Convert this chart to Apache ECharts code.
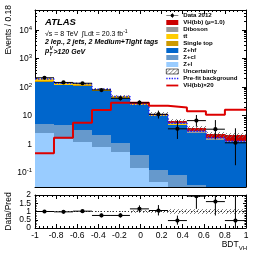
<!DOCTYPE html>
<html><head><meta charset="utf-8">
<script src="https://cdn.jsdelivr.net/npm/echarts@6/dist/echarts.min.js"></script>
<style>html,body{margin:0;padding:0;background:#fff}#c{width:266px;height:255px}</style>
</head><body><div id="c"></div>
<script>
// ---- data ----
const binLow  = [-1, -0.82, -0.64, -0.46, -0.28, -0.1, 0.08, 0.26, 0.44, 0.62, 0.8];
const binHigh = [-0.82, -0.64, -0.46, -0.28, -0.1, 0.08, 0.26, 0.44, 0.62, 0.8, 1.0];
const zl        = [2.4, 1.46, 1.2, 0.8, 0.54, 0.14, 0.048, 0.012, 0.006, 0.004, 0.003];
const zcl       = [2.6, 3.1, 1.9, 1.27, 0.51, 0.27, 0.072, 0.07, 0.03, 0.015, 0.01];
const zhf       = [149, 112, 107, 70, 41, 22.6, 9.7, 4.5, 2.33, 1.36, 1.14];
const singleTop = [5, 4, 4, 3, 1.5, 0.8, 0.15, 0.1, 0.05, 0.02, 0.01];
const ttbar     = [35.5, 18.4, 16.2, 9, 3.1, 1.0, 0.15, 0.3, 0.08, 0.02, 0.01];
const diboson   = [1.5, 1.5, 1.5, 1.2, 1.0, 0.8, 0.3, 0.45, 0.35, 0.25, 0.1];
const vhbb      = [0.024, 0.083, 0.28, 0.78, 1.4, 1.4, 1.1, 0.95, 0.7, 0.53, 0.8];
const vhbbx20   = [0.47, 1.66, 5.6, 15.6, 28, 28, 22, 19, 14, 10.7, 16];
const prefit    = [190, 135, 128, 83, 46, 25, 10.3, 5.3, 2.8, 1.65, 1.25];
const dataVals  = [210, 144, 135, 78, 40, 28, 11, 3.4, 6.6, 3.3, 1.1];
const dataErrLo = [14, 12, 11.5, 8.8, 6.2, 5.2, 3.2, 1.9, 2.55, 1.85, 0.92];
const dataErrHi = [15, 12.5, 12, 9.3, 6.8, 5.8, 3.8, 3.5, 3.8, 3.6, 2.45];
const uncRel    = [0.06, 0.06, 0.06, 0.07, 0.08, 0.1, 0.12, 0.15, 0.18, 0.2, 0.2];
const ratio      = [1.0, 0.98, 1.02, 0.76, 0.76, 1.16, 1.06, 0.45, 1.93, 1.6, 0.45];
const ratioErrLo = [0.07, 0.08, 0.08, 0.11, 0.12, 0.2, 0.3, 0.25, 0.77, 0.84, 0.45];
const ratioErrHi = [0.07, 0.08, 0.08, 0.11, 0.13, 0.21, 0.33, 0.3, 0.9, 1.0, 1.6];
const ratioUnc   = [0.04, 0.04, 0.04, 0.05, 0.06, 0.08, 0.1, 0.14, 0.16, 0.17, 0.17];
const yMajorTicks = [0.1, 1, 10, 100, 1000, 10000];
const xTickLabels = [-1, -0.8, -0.6, -0.4, -0.2, 0, 0.2, 0.4, 0.6, 0.8, 1];
const ratioLabelsA = [0, 1, 2];
const ratioLabelsB = [0.5, 1.5];

// ---- style ----
const FONT = '"Liberation Sans", Arial, Helvetica, sans-serif';
const yMin = 0.031, yMax = 50000;

function makeHatch() {
  const c = document.createElement('canvas'); c.width = 4; c.height = 4;
  const g = c.getContext('2d'); g.strokeStyle = '#666'; g.lineWidth = 0.8;
  g.beginPath();
  g.moveTo(0, 4); g.lineTo(4, 0);
  g.moveTo(-1, 1); g.lineTo(1, -1);
  g.moveTo(3, 5); g.lineTo(5, 3);
  g.stroke();
  return {image: c, repeat: 'repeat'};
}
const HATCH = makeHatch();

const yMinorTicks = [];
for (let e = -2; e <= 4; e++) for (let k = 2; k <= 9; k++) {
  const v = k * Math.pow(10, e);
  if (v > yMin && v < yMax) yMinorTicks.push(v);
}

function makeRect(fill) {
  return function (params, api) {
    const p0 = api.coord([api.value(0), api.value(3)]);
    const p1 = api.coord([api.value(1), api.value(2)]);
    const x0 = Math.round(p0[0]), x1 = Math.round(p1[0]);
    const ya = Math.round(Math.min(p0[1], p1[1])), yb = Math.round(Math.max(p0[1], p1[1]));
    return {type: 'rect', shape: {x: x0, y: ya, width: x1 - x0, height: yb - ya}, style: {fill: fill}};
  };
}
function makePoints(floor) {
  return function (params, api) {
    const xc = api.value(0), x0 = api.value(1), x1 = api.value(2), v = api.value(3);
    const lo = api.value(4), hi = api.value(5);
    const c = api.coord([xc, v]);
    const a = api.coord([x0, v]), b = api.coord([x1, v]);
    const t = api.coord([xc, v + hi]);
    const d = api.coord([xc, Math.max(v - lo, floor)]);
    return {type: 'group', children: [
      {type: 'line', shape: {x1: a[0], y1: c[1], x2: b[0], y2: c[1]}, style: {stroke: '#000', lineWidth: 1}},
      {type: 'line', shape: {x1: c[0], y1: t[1], x2: c[0], y2: d[1]}, style: {stroke: '#000', lineWidth: 1}},
      {type: 'circle', shape: {cx: c[0], cy: c[1], r: 2.1}, style: {fill: '#000'}}
    ]};
  };
}

const layers = [
  {name: 'Z+l', values: zl, color: '#99ccff'},
  {name: 'Z+cl', values: zcl, color: '#6699cc'},
  {name: 'Z+hf', values: zhf, color: '#0066cc'},
  {name: 'Single top', values: singleTop, color: '#cc9900'},
  {name: 'tt\u0304', values: ttbar, color: '#ffcc00'},
  {name: 'Diboson', values: diboson, color: '#999999'},
  {name: 'VH(bb) (\u03bc=1.0)', values: vhbb, color: '#cc0000'}
];

const series = [];
const cum = binLow.map(() => 0);
layers.forEach(L => {
  const d = binLow.map((x0, i) => {
    const base = cum[i] > 0 ? cum[i] : yMin;
    cum[i] += L.values[i];
    return [x0, binHigh[i], base, cum[i]];
  });
  series.push({type: 'custom', name: L.name, xAxisIndex: 0, yAxisIndex: 0, clip: true, silent: true, z: 2,
    itemStyle: {color: L.color}, encode: {x: [0, 1], y: [2, 3]}, data: d, renderItem: makeRect(L.color)});
});
const total = cum.slice();

series.push({type: 'custom', name: 'Uncertainty', xAxisIndex: 0, yAxisIndex: 0, clip: true, silent: true, z: 3,
  itemStyle: {color: '#888'}, encode: {x: [0, 1], y: [2, 3]},
  data: binLow.map((x0, i) => [x0, binHigh[i], total[i] * (1 - uncRel[i]), total[i] * (1 + uncRel[i])]),
  renderItem: makeRect(HATCH)});

function stepData(vals) {
  const d = binLow.map((x, i) => [x, vals[i]]);
  d.push([binHigh[binHigh.length - 1], vals[vals.length - 1]]);
  return d;
}
series.push({type: 'line', name: 'Pre-fit background', xAxisIndex: 0, yAxisIndex: 0, step: 'end', symbol: 'none', silent: true, z: 4,
  lineStyle: {color: '#2020ff', width: 1.5, type: [1.5, 1.5]}, itemStyle: {color: '#2020ff'}, data: stepData(prefit)});
series.push({type: 'line', name: 'VH(bb)\u00d720', xAxisIndex: 0, yAxisIndex: 0, step: 'end', symbol: 'none', silent: true, z: 5,
  lineStyle: {color: '#dd0000', width: 2}, itemStyle: {color: '#dd0000'}, data: stepData(vhbbx20)});
series.push({type: 'custom', name: 'Data 2012', xAxisIndex: 0, yAxisIndex: 0, clip: true, silent: true, z: 6,
  itemStyle: {color: '#000'}, encode: {x: 0, y: 3},
  data: binLow.map((x0, i) => [(x0 + binHigh[i]) / 2, x0, binHigh[i], dataVals[i], dataErrLo[i], dataErrHi[i]]),
  renderItem: makePoints(yMin * 0.5)});

// ratio panel
series.push({type: 'custom', name: 'ratioUnc', xAxisIndex: 2, yAxisIndex: 4, clip: true, silent: true, z: 2,
  encode: {x: [0, 1], y: [2, 3]},
  data: binLow.map((x0, i) => [x0, binHigh[i], 1 - ratioUnc[i], 1 + ratioUnc[i]]),
  renderItem: makeRect(HATCH)});
series.push({type: 'custom', name: 'ratioPts', xAxisIndex: 2, yAxisIndex: 4, clip: true, silent: true, z: 6,
  encode: {x: 0, y: 3},
  data: binLow.map((x0, i) => [(x0 + binHigh[i]) / 2, x0, binHigh[i], ratio[i], ratioErrLo[i], ratioErrHi[i]]),
  renderItem: makePoints(-1),
  markLine: {silent: true, symbol: 'none', label: {show: false}, lineStyle: {color: '#333', width: 1, type: [1, 2]}, data: [{yAxis: 1}]}});

// ---- axes ----
const black = {color: '#000', width: 1};
function xAx(grid, pos, labels) {
  return {type: 'value', gridIndex: grid, position: pos, min: -1, max: 1, interval: 0.2,
    axisLine: {show: true, onZero: false, lineStyle: black},
    axisTick: {show: true, inside: true, length: 4, lineStyle: black},
    minorTick: {show: true, splitNumber: 5, length: 2, lineStyle: black},
    splitLine: {show: false}, minorSplitLine: {show: false},
    axisLabel: {show: labels, color: '#000', fontSize: 8.5, fontFamily: FONT, margin: 3,
      showMinLabel: true, showMaxLabel: true, hideOverlap: false, customValues: xTickLabels,
      formatter: v => String(Math.round(v * 10) / 10)}};
}
function powFmt(v) {
  const n = Math.round(Math.log10(v));
  if (n === 0) return '{b|1}';
  if (n === 1) return '{b|10}';
  return '{b|10}{s|' + n + '}';
}
function yLog(pos, major, labels) {
  return {type: 'log', logBase: 10, gridIndex: 0, position: pos, min: yMin, max: yMax,
    axisLine: {show: major, onZero: false, lineStyle: black},
    axisTick: {show: true, inside: true, length: major ? 4 : 2, lineStyle: black, customValues: major ? yMajorTicks : yMinorTicks},
    minorTick: {show: false}, splitLine: {show: false}, minorSplitLine: {show: false},
    axisLabel: {show: labels, customValues: yMajorTicks, formatter: powFmt, margin: 3, color: '#000', hideOverlap: false,
      rich: {b: {fontSize: 8.5, fontFamily: FONT, color: '#000', lineHeight: 10, verticalAlign: 'bottom'},
             s: {fontSize: 6, fontFamily: FONT, color: '#000', lineHeight: 10, verticalAlign: 'top'}}}};
}
function yRatio(pos, frame, labelValues) {
  return {type: 'value', gridIndex: 1, position: pos, min: 0, max: 2, interval: 0.5,
    axisLine: {show: frame, onZero: false, lineStyle: black},
    axisTick: {show: frame, inside: true, length: 3, lineStyle: black},
    minorTick: {show: frame, splitNumber: 5, length: 1.5, lineStyle: black},
    splitLine: {show: false}, minorSplitLine: {show: false},
    axisLabel: {show: !!labelValues, color: '#000', fontSize: 8.5, lineHeight: 7, fontFamily: FONT, margin: 4,
      customValues: labelValues || [0], formatter: v => String(v),
      showMinLabel: true, showMaxLabel: true, hideOverlap: false}};
}

const DATA_ICON = 'path://M0,2.2L12,2.2L12,2.8L0,2.8Z M5.7,0L6.3,0L6.3,5L5.7,5Z M4.3,2.5A1.7,1.7,0,1,1,7.7,2.5A1.7,1.7,0,1,1,4.3,2.5Z';
const DOT_ICON = 'path://M0,0h1.2v1.2h-1.2z M2.4,0h1.2v1.2h-1.2z M4.8,0h1.2v1.2h-1.2z M7.2,0h1.2v1.2h-1.2z M9.6,0h1.2v1.2h-1.2z';
const LINE_ICON = 'path://M0,0h12v1.8h-12z';
const noBorder = c => ({color: c, borderWidth: 0});

const option = {
  animation: false,
  backgroundColor: '#fff',
  grid: [
    {left: 35, right: 20, top: 10, height: 177, containLabel: false, outerBoundsMode: 'none'},
    {left: 35, right: 20, top: 195, height: 33, containLabel: false, outerBoundsMode: 'none'}
  ],
  xAxis: [xAx(0, 'bottom', false), xAx(0, 'top', false), xAx(1, 'bottom', true), xAx(1, 'top', false)],
  yAxis: [yLog('left', true, true), yLog('left', false, false), yLog('right', true, false), yLog('right', false, false),
          yRatio('left', true, ratioLabelsA), yRatio('right', true, null), yRatio('left', false, ratioLabelsB)],
  legend: {
    orient: 'vertical', left: 166, top: 12, padding: 0, itemGap: 0, itemWidth: 12, itemHeight: 5,
    symbolKeepAspect: true, selectedMode: false,
    textStyle: {fontSize: 6.1, fontWeight: 'bold', fontFamily: FONT, color: '#000', lineHeight: 7},
    data: [
      {name: 'Data 2012', icon: DATA_ICON, itemStyle: noBorder('#000')},
      {name: 'VH(bb) (\u03bc=1.0)', icon: 'rect', itemStyle: noBorder('#cc0000')},
      {name: 'Diboson', icon: 'rect', itemStyle: noBorder('#999999')},
      {name: 'tt\u0304', icon: 'rect', itemStyle: noBorder('#ffcc00')},
      {name: 'Single top', icon: 'rect', itemStyle: noBorder('#cc9900')},
      {name: 'Z+hf', icon: 'rect', itemStyle: noBorder('#0066cc')},
      {name: 'Z+cl', icon: 'rect', itemStyle: noBorder('#6699cc')},
      {name: 'Z+l', icon: 'rect', itemStyle: noBorder('#99ccff')},
      {name: 'Uncertainty', icon: 'rect', itemStyle: {color: HATCH, borderColor: '#000', borderWidth: 0.6}},
      {name: 'Pre-fit background', icon: DOT_ICON, itemStyle: noBorder('#2020ff')},
      {name: 'VH(bb)\u00d720', icon: LINE_ICON, itemStyle: noBorder('#dd0000')}
    ]
  },
  graphic: [
    {type: 'text', x: 45, y: 22, silent: true, style: {text: 'ATLAS', fontSize: 9.5, fontStyle: 'italic', fontWeight: 'bold', fontFamily: FONT, fill: '#000', verticalAlign: 'middle'}},
    {type: 'text', x: 45, y: 33.5, silent: true, style: {text: '{a|\u221as = 8 TeV  \u222bLdt = 20.3 fb}{s|-1}', verticalAlign: 'middle',
      rich: {a: {fontSize: 7, fontFamily: FONT, fill: '#000', lineHeight: 9, verticalAlign: 'bottom'},
             s: {fontSize: 5, fontFamily: FONT, fill: '#000', lineHeight: 9, verticalAlign: 'top'}}}},
    {type: 'text', x: 45, y: 42, silent: true, style: {text: '2 lep., 2 jets, 2 Medium+Tight tags', fontSize: 7, fontStyle: 'italic', fontWeight: 'bold', fontFamily: FONT, fill: '#000', verticalAlign: 'middle'}},
    {type: 'text', x: 45, y: 51.5, silent: true, style: {text: 'p', fontSize: 7, fontStyle: 'italic', fontWeight: 'bold', fontFamily: FONT, fill: '#000', verticalAlign: 'middle'}},
    {type: 'text', x: 49.5, y: 49, silent: true, style: {text: 'V', fontSize: 5, fontStyle: 'italic', fontWeight: 'bold', fontFamily: FONT, fill: '#000', verticalAlign: 'middle'}},
    {type: 'text', x: 49.3, y: 55, silent: true, style: {text: 'T', fontSize: 5, fontStyle: 'italic', fontWeight: 'bold', fontFamily: FONT, fill: '#000', verticalAlign: 'middle'}},
    {type: 'text', x: 53.5, y: 52, silent: true, style: {text: '>120 GeV', fontSize: 7, fontStyle: 'italic', fontWeight: 'bold', fontFamily: FONT, fill: '#000', verticalAlign: 'middle'}},
    {type: 'text', x: 9, y: 5, rotation: Math.PI / 2, silent: true, style: {text: 'Events / 0.18', fontSize: 8.5, fontFamily: FONT, fill: '#000', align: 'right', verticalAlign: 'middle'}},
    {type: 'text', x: 9, y: 211.5, rotation: Math.PI / 2, silent: true, style: {text: 'Data/Pred', fontSize: 8.5, fontFamily: FONT, fill: '#000', align: 'center', verticalAlign: 'middle'}},
    {type: 'text', x: 247, y: 246, silent: true, style: {text: '{b|BDT}{s|VH}', align: 'right', verticalAlign: 'middle',
      rich: {b: {fontSize: 8.5, fontFamily: FONT, fill: '#000', lineHeight: 11, verticalAlign: 'top'},
             s: {fontSize: 6, fontFamily: FONT, fill: '#000', lineHeight: 11, verticalAlign: 'bottom'}}}}
  ],
  series: series
};

const chart = echarts.init(document.getElementById('c'), null, {renderer: 'canvas', width: 266, height: 255});
chart.setOption(option);
</script>
</body></html>
